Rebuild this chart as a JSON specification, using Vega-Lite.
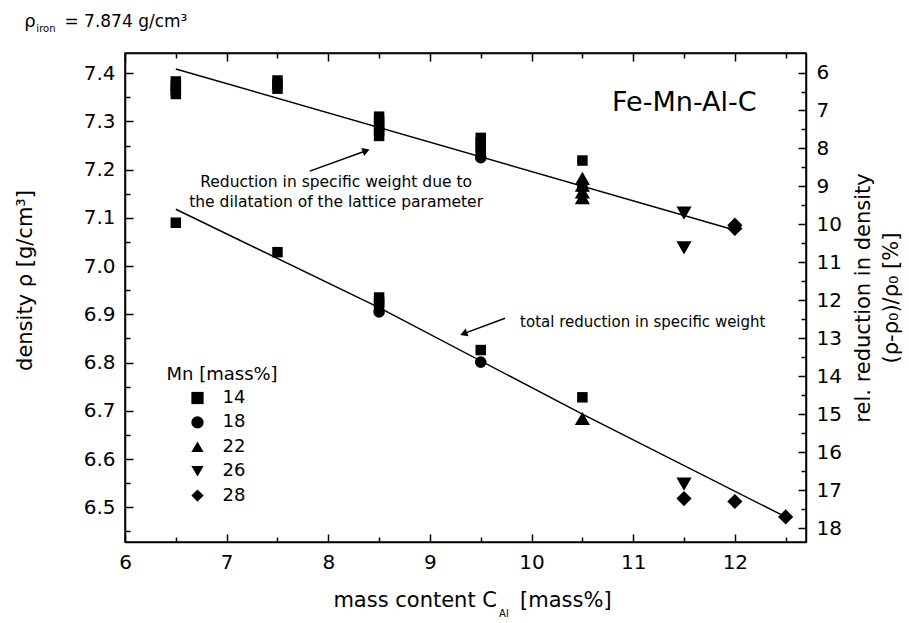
{
  "$schema": "https://vega.github.io/schema/vega-lite/v6.json",
  "width": 681,
  "height": 489,
  "autosize": "none",
  "padding": {"left": 125, "top": 53, "right": 103, "bottom": 81},
  "background": "white",
  "config": {
    "font": "DejaVu Sans",
    "view": {"stroke": "black", "strokeWidth": 1.5},
    "axis": {"grid": false, "domainColor": "black", "domainWidth": 1.5, "tickColor": "black", "tickWidth": 1.5, "labelColor": "black", "titleColor": "black", "labelFlush": false, "labelOverlap": false, "titleFontWeight": "normal"}
  },
  "datasets": {
    "pts": [
      {"x": 6.5, "y": 7.383, "Mn": "14"}, {"x": 6.5, "y": 7.374, "Mn": "14"}, {"x": 6.5, "y": 7.365, "Mn": "14"}, {"x": 6.5, "y": 7.357, "Mn": "14"}, {"x": 6.5, "y": 7.090, "Mn": "14"},
      {"x": 7.5, "y": 7.385, "Mn": "14"}, {"x": 7.5, "y": 7.377, "Mn": "14"}, {"x": 7.5, "y": 7.368, "Mn": "14"}, {"x": 7.5, "y": 7.029, "Mn": "14"},
      {"x": 8.5, "y": 7.310, "Mn": "14"}, {"x": 8.5, "y": 7.300, "Mn": "14"}, {"x": 8.5, "y": 7.290, "Mn": "14"}, {"x": 8.5, "y": 7.280, "Mn": "14"}, {"x": 8.5, "y": 7.270, "Mn": "14"},
      {"x": 8.5, "y": 6.935, "Mn": "14"}, {"x": 8.5, "y": 6.926, "Mn": "14"}, {"x": 8.5, "y": 6.918, "Mn": "14"},
      {"x": 9.5, "y": 7.266, "Mn": "14"}, {"x": 9.5, "y": 7.256, "Mn": "14"}, {"x": 9.5, "y": 7.246, "Mn": "14"}, {"x": 9.5, "y": 7.236, "Mn": "14"}, {"x": 9.5, "y": 6.826, "Mn": "14"},
      {"x": 10.5, "y": 7.219, "Mn": "14"}, {"x": 10.5, "y": 7.165, "Mn": "14"}, {"x": 10.5, "y": 6.728, "Mn": "14"},
      {"x": 8.5, "y": 6.905, "Mn": "18"}, {"x": 9.5, "y": 7.225, "Mn": "18"}, {"x": 9.5, "y": 6.801, "Mn": "18"},
      {"x": 10.5, "y": 7.182, "Mn": "22"}, {"x": 10.5, "y": 7.168, "Mn": "22"}, {"x": 10.5, "y": 7.154, "Mn": "22"}, {"x": 10.5, "y": 7.142, "Mn": "22"}, {"x": 10.5, "y": 6.684, "Mn": "22"},
      {"x": 11.5, "y": 7.110, "Mn": "26"}, {"x": 11.5, "y": 7.038, "Mn": "26"}, {"x": 11.5, "y": 6.548, "Mn": "26"},
      {"x": 11.5, "y": 6.518, "Mn": "28"}, {"x": 12, "y": 7.085, "Mn": "28"}, {"x": 12, "y": 7.078, "Mn": "28"}, {"x": 12, "y": 6.512, "Mn": "28"}, {"x": 12.5, "y": 6.480, "Mn": "28"}
    ],
    "fits": [
      {"x": 6.5, "y": 7.409, "fit": "lattice"}, {"x": 12.03, "y": 7.073, "fit": "lattice"},
      {"x": 6.5, "y": 7.118, "fit": "total"}, {"x": 8.5, "y": 6.914, "fit": "total"}, {"x": 10.5, "y": 6.693, "fit": "total"}, {"x": 12.5, "y": 6.48, "fit": "total"}
    ],
    "arrows": [
      {"x": 7.818, "y": 7.197, "x2": 8.372, "y2": 7.2393},
      {"x": 9.739, "y": 6.892, "x2": 9.332, "y2": 6.860}
    ]
  },
  "layer": [
    {
      "encoding": {
        "x": {"field": "x", "type": "quantitative", "scale": {"domain": [6, 12.7], "nice": false, "zero": false},
          "axis": {"orient": "bottom", "title": null, "values": [6, 6.5, 7, 7.5, 8, 8.5, 9, 9.5, 10, 10.5, 11, 11.5, 12, 12.5],
            "labelExpr": "datum.value % 1 === 0 ? format(datum.value, 'd') : ''",
            "tickSize": {"condition": {"test": "datum.value % 1 !== 0", "value": -5}, "value": -8},
            "labelPadding": 18, "labelFontSize": 20}},
        "y": {"field": "y", "type": "quantitative", "scale": {"domain": [6.428, 7.442], "nice": false, "zero": false},
          "axis": {"orient": "left", "title": "density ρ [g/cm³]", "titleFontSize": 21, "titlePadding": 48, "titleY": 227,
            "values": [6.45, 6.5, 6.55, 6.6, 6.65, 6.7, 6.75, 6.8, 6.85, 6.9, 6.95, 7.0, 7.05, 7.1, 7.15, 7.2, 7.25, 7.3, 7.35, 7.4],
            "labelExpr": "abs(datum.value*10 - round(datum.value*10)) < 0.001 ? format(datum.value, '.1f') : ''",
            "tickSize": {"condition": {"test": "abs(datum.value*10 - round(datum.value*10)) > 0.001", "value": -5}, "value": -8},
            "labelPadding": 18, "labelFontSize": 20}},
        "shape": {"field": "Mn", "type": "nominal",
          "scale": {"domain": ["14", "18", "22", "26", "28"], "range": ["square", "circle", "triangle-up", "triangle-down", "diamond"]},
          "legend": {"orient": "none", "legendX": 41.5, "legendY": 313, "title": "Mn [mass%]", "titleFontSize": 18, "titleFontWeight": "normal", "titleColor": "black",
            "labelFontSize": 18, "labelColor": "black", "symbolSize": 150, "symbolFillColor": "black", "symbolStrokeColor": "black", "symbolStrokeWidth": 0,
            "symbolOffset": 22, "labelOffset": 16, "rowPadding": 6.4, "titlePadding": 5, "padding": 0}}
      },
      "layer": [
        {"data": {"name": "fits"}, "mark": {"type": "line", "color": "black", "strokeWidth": 1.5}, "encoding": {"detail": {"field": "fit"}, "shape": null}},
        {"data": {"name": "arrows"}, "mark": {"type": "rule", "color": "black", "strokeWidth": 1.5}, "encoding": {"x2": {"field": "x2"}, "y2": {"field": "y2"}, "shape": null}},
        {"data": {"values": [{"x": 8.372, "y": 7.2393}]}, "mark": {"type": "point", "shape": "triangle-right", "filled": true, "color": "black", "size": 70, "angle": -20, "opacity": 1}, "encoding": {"shape": null}},
        {"data": {"values": [{"x": 9.332, "y": 6.860}]}, "mark": {"type": "point", "shape": "triangle-left", "filled": true, "color": "black", "size": 70, "angle": -20, "opacity": 1}, "encoding": {"shape": null}},
        {"data": {"name": "pts"}, "transform": [{"filter": "datum.Mn == '14'"}], "mark": {"type": "point", "filled": true, "color": "black", "opacity": 1, "size": 110}},
        {"data": {"name": "pts"}, "transform": [{"filter": "datum.Mn == '18'"}], "mark": {"type": "point", "filled": true, "color": "black", "opacity": 1, "size": 135}},
        {"data": {"name": "pts"}, "transform": [{"filter": "datum.Mn == '22' || datum.Mn == '26'"}], "mark": {"type": "point", "filled": true, "color": "black", "opacity": 1, "size": 230}},
        {"data": {"name": "pts"}, "transform": [{"filter": "datum.Mn == '28'"}], "mark": {"type": "point", "filled": true, "color": "black", "opacity": 1, "size": 230}},
        {"data": {"values": [
            {"x": 8.077, "y": 7.175, "label": "Reduction in specific weight due to"},
            {"x": 8.077, "y": 7.132, "label": "the dilatation of the lattice parameter"}]},
          "mark": {"type": "text", "fontSize": 15.5, "align": "center", "baseline": "middle", "color": "black"},
          "encoding": {"text": {"field": "label"}, "shape": null}},
        {"data": {"values": [{"x": 9.887, "y": 6.885, "label": "total reduction in specific weight"}]},
          "mark": {"type": "text", "fontSize": 15, "align": "left", "baseline": "middle", "color": "black"},
          "encoding": {"text": {"field": "label"}, "shape": null}},
        {"data": {"values": [{"x": 11.503, "y": 7.338, "label": "Fe-Mn-Al-C"}]},
          "mark": {"type": "text", "fontSize": 27, "align": "center", "baseline": "middle", "color": "black"},
          "encoding": {"text": {"field": "label"}, "shape": null}},
        {"data": {"values": [{"x": 9.66, "y": 6.2932, "label": "mass content C"}]},
          "mark": {"type": "text", "fontSize": 21, "align": "right", "baseline": "alphabetic", "color": "black"},
          "encoding": {"text": {"field": "label"}, "shape": null}},
        {"data": {"values": [{"x": 9.68, "y": 6.2725, "label": "Al"}]},
          "mark": {"type": "text", "fontSize": 10, "align": "left", "baseline": "alphabetic", "color": "black"},
          "encoding": {"text": {"field": "label"}, "shape": null}},
        {"data": {"values": [{"x": 9.887, "y": 6.2932, "label": "[mass%]"}]},
          "mark": {"type": "text", "fontSize": 21, "align": "left", "baseline": "alphabetic", "color": "black"},
          "encoding": {"text": {"field": "label"}, "shape": null}},
        {"data": {"values": [{"x": 5.01, "y": 7.496, "label": "ρ"}]},
          "mark": {"type": "text", "fontSize": 18, "align": "left", "baseline": "alphabetic", "color": "black"},
          "encoding": {"text": {"field": "label"}, "shape": null}},
        {"data": {"values": [{"x": 5.128, "y": 7.4857, "label": "iron"}]},
          "mark": {"type": "text", "fontSize": 10, "align": "left", "baseline": "alphabetic", "color": "black"},
          "encoding": {"text": {"field": "label"}, "shape": null}},
        {"data": {"values": [{"x": 5.404, "y": 7.496, "label": "= 7.874 g/cm³"}]},
          "mark": {"type": "text", "fontSize": 17, "align": "left", "baseline": "alphabetic", "color": "black"},
          "encoding": {"text": {"field": "label"}, "shape": null}}
      ]
    },
    {
      "data": {"values": [{"r": 6}, {"r": 18}]},
      "mark": {"type": "point", "opacity": 0},
      "encoding": {
        "y": {"field": "r", "type": "quantitative", "scale": {"domain": [5.486, 18.364], "reverse": true, "nice": false, "zero": false},
          "axis": {"orient": "right", "title": ["rel. reduction in density", "(ρ-ρ₀)/ρ₀ [%]"], "titleFontSize": 21, "titleAngle": 270, "titleBaseline": "top", "titleLineHeight": 28, "titlePadding": -17,
            "values": [6, 6.5, 7, 7.5, 8, 8.5, 9, 9.5, 10, 10.5, 11, 11.5, 12, 12.5, 13, 13.5, 14, 14.5, 15, 15.5, 16, 16.5, 17, 17.5, 18],
            "labelExpr": "datum.value % 1 === 0 ? format(datum.value, 'd') : ''",
            "tickSize": {"condition": {"test": "datum.value % 1 !== 0", "value": -5}, "value": -8},
            "labelPadding": 18, "labelFontSize": 20}}
      }
    },
    {
      "data": {"values": [{"t": 6}, {"t": 12.7}]},
      "mark": {"type": "point", "opacity": 0},
      "encoding": {
        "x": {"field": "t", "type": "quantitative", "scale": {"domain": [6, 12.7], "nice": false, "zero": false},
          "axis": {"orient": "top", "title": null, "labels": false,
            "values": [6, 6.5, 7, 7.5, 8, 8.5, 9, 9.5, 10, 10.5, 11, 11.5, 12, 12.5],
            "tickSize": {"condition": {"test": "datum.value % 1 !== 0", "value": -5}, "value": -8}}}
      }
    }
  ],
  "resolve": {"scale": {"x": "independent", "y": "independent"}}
}
